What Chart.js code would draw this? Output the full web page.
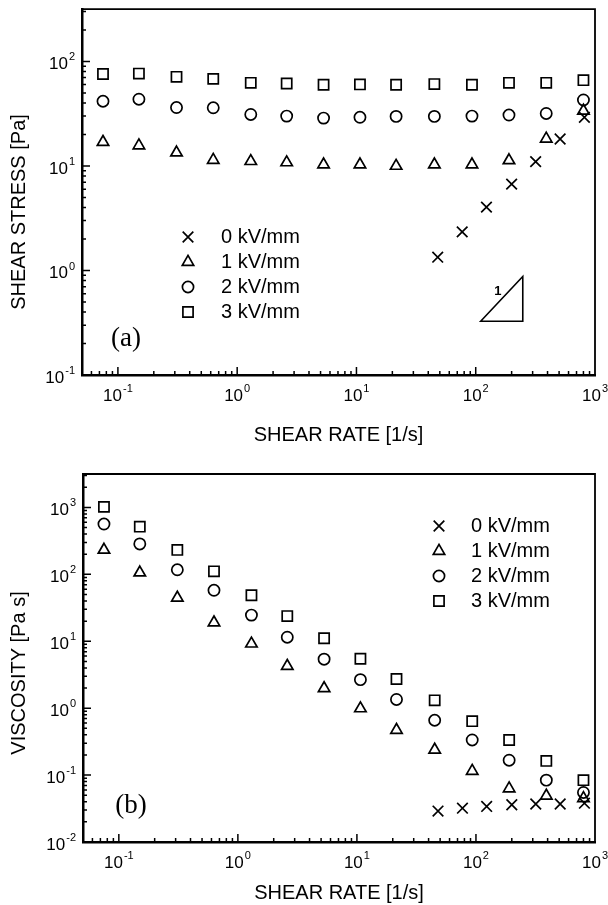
<!DOCTYPE html>
<html>
<head>
<meta charset="utf-8">
<script src="https://cdn.jsdelivr.net/npm/chart.js@4.4.1/dist/chart.umd.min.js"></script>
<style>
  html, body { margin: 0; padding: 0; background: #fff; }
  canvas { display: block; }
</style>
</head>
<body>
<canvas id="stress" width="608" height="452"></canvas>
<canvas id="viscosity" width="608" height="453"></canvas>
<script>
// shear rates [1/s]
const RATES = [0.075, 0.15, 0.31, 0.63, 1.3, 2.6, 5.3, 10.7, 21.5, 45, 93, 190, 390, 800]
const RATES_0KV = [48, 77, 123, 200, 318, 510, 815]

// (a) shear stress [Pa]
const STRESS_0KV = [1.34, 2.34, 4.04, 6.7, 11.0, 18.1, 29.2]
const STRESS_1KV = [16.9, 15.7, 13.4, 11.4, 11.1, 10.8, 10.3, 10.3, 10.0, 10.3, 10.3, 11.3, 18.2, 33.7]
const STRESS_2KV = [41.6, 43.5, 36.2, 36.0, 31.1, 30.0, 28.7, 29.2, 29.8, 29.8, 30.0, 30.7, 31.8, 42.8]
const STRESS_3KV = [75.9, 76.5, 71.2, 68.1, 62.4, 61.5, 59.8, 60.3, 59.8, 60.7, 59.8, 62.4, 62.4, 66.2]

// (b) viscosity [Pa s]
const VISC_0KV = [0.029, 0.032, 0.034, 0.036, 0.037, 0.037, 0.038]
const VISC_1KV = [232, 106, 44.6, 19, 9.2, 4.26, 1.98, 0.99, 0.47, 0.238, 0.115, 0.063, 0.049, 0.045]
const VISC_2KV = [565, 285, 117, 57.8, 24.6, 11.5, 5.4, 2.67, 1.35, 0.66, 0.335, 0.167, 0.084, 0.055]
const VISC_3KV = [1020, 516, 232, 111, 48.8, 23.8, 11.1, 5.47, 2.73, 1.31, 0.64, 0.335, 0.163, 0.084]

const FIELD_LABELS = ['0 kV/mm', '1 kV/mm', '2 kV/mm', '3 kV/mm']
const X_TICKS = [0.1, 1, 10, 100, 1000]
const STRESS_TICKS = [0.1, 1, 10, 100]
const VISC_TICKS = [0.01, 0.1, 1, 10, 100, 1000]

// slope triangle in panel (a), shear rate / stress
const SLOPE_X = [110, 248, 248]
const SLOPE_Y = [0.327, 0.875, 0.327]

const SANS = "'Liberation Sans', Arial, sans-serif"
Chart.defaults.font.family = SANS
Chart.defaults.color = '#000'

const MARKERS = [
  { pointStyle: 'crossRot', radius: 7.5 },
  { pointStyle: 'triangle', radius: 6.6 },
  { pointStyle: 'circle', radius: 5.6 },
  { pointStyle: 'rect', radius: 7.2 },
]

function points(xs, ys) {
  return xs.map((x, i) => ({ x: x, y: ys[i] }))
}

function series(sets) {
  return sets.map((s, i) => ({
    label: FIELD_LABELS[i],
    data: points(s[0], s[1]),
    pointStyle: MARKERS[i].pointStyle,
    pointRadius: MARKERS[i].radius,
    pointHoverRadius: MARKERS[i].radius,
    pointBorderWidth: 1.7,
    borderColor: '#000',
    backgroundColor: 'rgba(0,0,0,0)',
    showLine: false,
  }))
}

function drawMarker(ctx, m, x, y) {
  ctx.save()
  ctx.strokeStyle = '#000'
  ctx.fillStyle = 'rgba(0,0,0,0)'
  ctx.lineWidth = 1.7
  Chart.helpers.drawPoint(ctx, { pointStyle: m.pointStyle, radius: m.radius, borderWidth: 1.7, rotation: 0 }, x, y)
  ctx.restore()
}

// "10" with a raised exponent; anchor is 'center' or 'right'
function powerLabel(ctx, v, x, y, anchor) {
  const exp = String(Math.round(Math.log10(v)))
  ctx.font = '17px ' + SANS
  const w1 = ctx.measureText('10').width
  ctx.font = '11px ' + SANS
  const w2 = ctx.measureText(exp).width
  const total = w1 + 1 + w2
  const x0 = anchor === 'center' ? x - total / 2 : x - total
  ctx.textAlign = 'left'
  ctx.textBaseline = 'middle'
  ctx.font = '17px ' + SANS
  ctx.fillText('10', x0, y)
  ctx.font = '11px ' + SANS
  ctx.fillText(exp, x0 + w1 + 1, y - 7)
}

const decor = {
  id: 'decor',
  afterDatasetsDraw(chart, args, opts) {
    const ctx = chart.ctx
    const a = chart.chartArea
    const xs = chart.scales.x
    const ys = chart.scales.y
    ctx.save()
    ctx.strokeStyle = '#000'
    ctx.fillStyle = '#000'

    // top and right frame
    ctx.lineWidth = 1.8
    ctx.beginPath()
    ctx.moveTo(a.left, a.top)
    ctx.lineTo(a.right, a.top)
    ctx.lineTo(a.right, a.bottom)
    ctx.stroke()

    // inward log ticks
    ctx.lineWidth = 1.5
    const ticks = (scale, draw) => {
      const lo = Math.floor(Math.log10(scale.min))
      const hi = Math.ceil(Math.log10(scale.max))
      for (let d = lo; d <= hi; d++) {
        for (let k = 1; k <= 9; k++) {
          const v = k * Math.pow(10, d)
          if (v < scale.min * 1.0001 || v > scale.max * 0.9999) continue
          draw(scale.getPixelForValue(v), k === 1 ? 8 : 4)
        }
      }
    }
    ctx.beginPath()
    ticks(xs, (px, len) => { ctx.moveTo(px, a.bottom); ctx.lineTo(px, a.bottom - len) })
    ticks(ys, (py, len) => { ctx.moveTo(a.left, py); ctx.lineTo(a.left + len, py) })
    ctx.stroke()

    // tick labels
    xs.ticks.forEach((t) => powerLabel(ctx, t.value, xs.getPixelForValue(t.value), a.bottom + 21, 'center'))
    ys.ticks.forEach((t) => powerLabel(ctx, t.value, a.left - 7, ys.getPixelForValue(t.value) + 3, 'right'))

    // y axis title
    ctx.save()
    ctx.translate(opts.yTitleX, opts.yTitleY)
    ctx.rotate(-Math.PI / 2)
    ctx.font = '20px ' + SANS
    ctx.textAlign = 'center'
    ctx.textBaseline = 'middle'
    ctx.fillText(opts.yTitle, 0, 0)
    ctx.restore()

    // legend
    ctx.font = '20px ' + SANS
    ctx.textBaseline = 'middle'
    ctx.textAlign = 'left'
    chart.data.datasets.forEach((ds, i) => {
      const y = opts.legendY + i * opts.legendGap
      drawMarker(ctx, MARKERS[i], opts.markerX, y)
      ctx.fillText(ds.label, opts.textX, y)
    })

    // panel tag
    ctx.font = "27px 'Liberation Serif', 'Times New Roman', serif"
    ctx.textAlign = 'center'
    ctx.fillText(opts.tag, opts.tagX, opts.tagY)

    // slope triangle
    if (opts.slope) {
      ctx.lineWidth = 1.6
      ctx.beginPath()
      SLOPE_X.forEach((x, i) => {
        const px = xs.getPixelForValue(x)
        const py = ys.getPixelForValue(SLOPE_Y[i])
        if (i === 0) ctx.moveTo(px, py)
        else ctx.lineTo(px, py)
      })
      ctx.closePath()
      ctx.stroke()
      ctx.font = 'bold 13px ' + SANS
      ctx.fillText('1', xs.getPixelForValue(153), ys.getPixelForValue(0.63))
    }
    ctx.restore()
  },
}

function makeChart(id, cfg) {
  return new Chart(document.getElementById(id), {
    type: 'scatter',
    data: { datasets: series(cfg.sets) },
    plugins: [decor],
    options: {
      responsive: false,
      animation: false,
      layout: { padding: { top: cfg.padTop, right: 13, left: 0, bottom: 0 } },
      plugins: {
        legend: { display: false },
        tooltip: { enabled: false },
        decor: cfg.decor,
      },
      scales: {
        x: {
          type: 'logarithmic',
          min: 0.05,
          max: 1000,
          afterBuildTicks: (s) => { s.ticks = X_TICKS.map((v) => ({ value: v })) },
          afterFit: (s) => { s.height = cfg.xHeight },
          grid: { display: false },
          border: { display: true, color: '#000', width: 2.5 },
          ticks: { display: false },
          title: { display: true, text: 'SHEAR RATE [1/s]', font: { size: 20 }, padding: { bottom: cfg.xTitlePad } },
        },
        y: {
          type: 'logarithmic',
          min: cfg.yMin,
          max: cfg.yMax,
          afterBuildTicks: (s) => { s.ticks = cfg.yTicks.map((v) => ({ value: v })) },
          afterFit: (s) => { s.width = cfg.yWidth },
          grid: { display: false },
          border: { display: true, color: '#000', width: 2.5 },
          ticks: { display: false },
        },
      },
    },
  })
}

makeChart('stress', {
  sets: [[RATES_0KV, STRESS_0KV], [RATES, STRESS_1KV], [RATES, STRESS_2KV], [RATES, STRESS_3KV]],
  padTop: 9,
  xHeight: 77,
  xTitlePad: 5,
  yWidth: 82,
  yMin: 0.1,
  yMax: 316,
  yTicks: STRESS_TICKS,
  decor: {
    yTitle: 'SHEAR STRESS [Pa]', yTitleX: 19, yTitleY: 212,
    markerX: 188, textX: 221, legendY: 237, legendGap: 25,
    tag: '(a)', tagX: 126, tagY: 339, slope: true,
  },
})

makeChart('viscosity', {
  sets: [[RATES_0KV, VISC_0KV], [RATES, VISC_1KV], [RATES, VISC_2KV], [RATES, VISC_3KV]],
  padTop: 22,
  xHeight: 63,
  xTitlePad: 0,
  yWidth: 83,
  yMin: 0.01,
  yMax: 3162,
  yTicks: VISC_TICKS,
  decor: {
    yTitle: 'VISCOSITY [Pa s]', yTitleX: 19, yTitleY: 221,
    markerX: 439, textX: 471, legendY: 74, legendGap: 25,
    tag: '(b)', tagX: 131, tagY: 354, slope: false,
  },
})
</script>
</body>
</html>
